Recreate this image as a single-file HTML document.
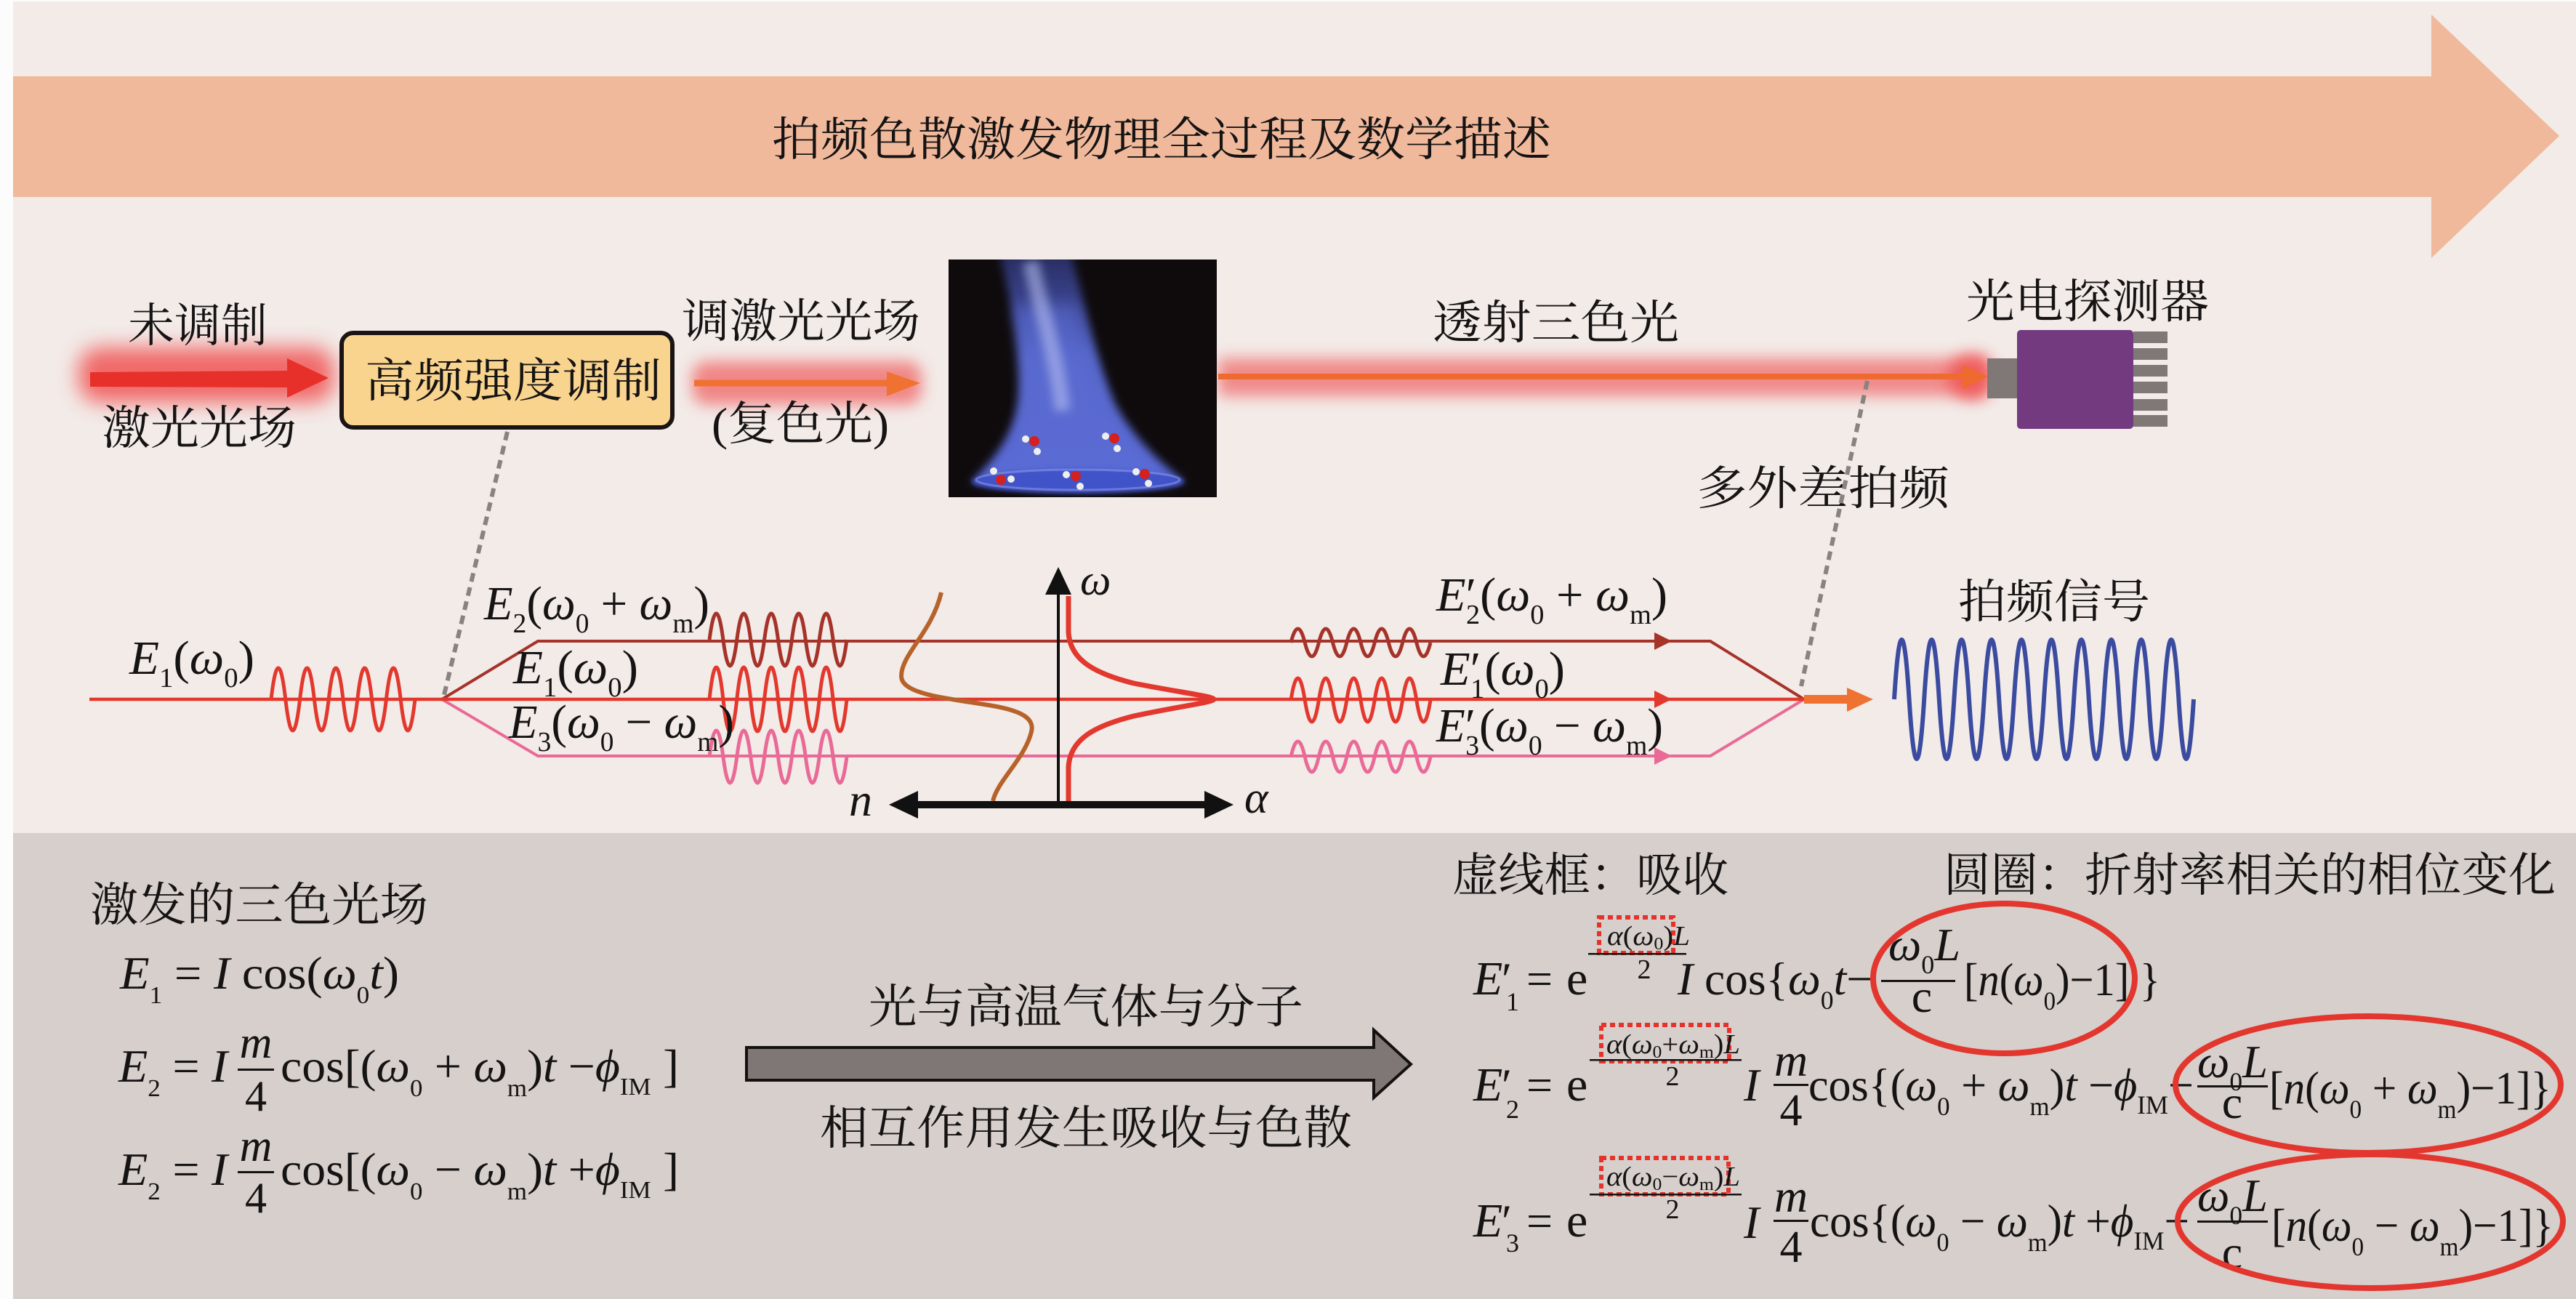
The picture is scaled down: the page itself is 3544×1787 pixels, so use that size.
<!DOCTYPE html>
<html><head><meta charset="utf-8"><style>
html,body{margin:0;padding:0;background:#fff;}
svg{display:block;}
.cn{font-family:"Liberation Serif","Noto Serif CJK SC",serif;fill:#151313;}
.m{font-family:"Liberation Serif","DejaVu Serif",serif;fill:#151313;}
.i{font-style:italic;}
</style></head><body>
<svg xmlns="http://www.w3.org/2000/svg" width="3544" height="1787" viewBox="0 0 3544 1787">
<defs>
<filter id="b14" x="-50%" y="-100%" width="200%" height="300%"><feGaussianBlur stdDeviation="14"/></filter>
<filter id="b10" x="-50%" y="-100%" width="200%" height="300%"><feGaussianBlur stdDeviation="10"/></filter>
<filter id="b6" x="-50%" y="-50%" width="200%" height="200%"><feGaussianBlur stdDeviation="6"/></filter>
<filter id="b3" x="-50%" y="-50%" width="200%" height="200%"><feGaussianBlur stdDeviation="3"/></filter>
<clipPath id="fc"><rect x="1305" y="357" width="369" height="327"/></clipPath>
<linearGradient id="fg" x1="0" y1="0" x2="0" y2="1"><stop offset="0" stop-color="#3d4aa8" stop-opacity="0.55"/><stop offset="0.45" stop-color="#5565c8"/><stop offset="1" stop-color="#5a6ad6"/></linearGradient>
</defs>

<!-- backgrounds -->
<rect x="0" y="0" width="3544" height="1787" fill="#fdfcfc"/>
<rect x="18" y="2" width="3526" height="1144" fill="#f2ebe8"/>
<rect x="18" y="1146" width="3526" height="641" fill="#d6cfcb"/>

<!-- big arrow band -->
<polygon points="18,105 3345,105 3345,20 3521,187 3345,355 3345,271 18,271" fill="#f0b99c"/>
<text class="cn" x="1062" y="214" font-size="64" textLength="1072" lengthAdjust="spacingAndGlyphs">拍频色散激发物理全过程及数学描述</text>

<!-- glows -->
<rect x="108" y="478" width="352" height="76" rx="30" fill="#f04a4a" opacity="0.8" filter="url(#b14)"/>
<rect x="952" y="497" width="316" height="60" rx="20" fill="#f06565" opacity="0.75" filter="url(#b10)"/>
<rect x="1676" y="493" width="1058" height="52" fill="#f06a6a" opacity="0.75" filter="url(#b10)"/>
<circle cx="2712" cy="518" r="32" fill="#f04a4a" opacity="0.7" filter="url(#b10)"/>

<!-- beams cores -->
<polygon points="124,512 395,510 395,493 452,520 395,547 395,533 124,532" fill="#e8302a"/>
<line x1="955" y1="527" x2="1225" y2="527" stroke="#f07232" stroke-width="9"/>
<polygon points="1220,511 1266,527 1220,545" fill="#f07232"/>
<line x1="1676" y1="518" x2="2705" y2="518" stroke="#ee6a2e" stroke-width="8"/>
<polygon points="2700,502 2735,518 2700,535" fill="#ee6a2e"/>

<!-- yellow box -->
<rect x="470" y="458" width="455" height="130" rx="16" fill="#f9d48f" stroke="#1a1414" stroke-width="6"/>
<text class="cn" x="502" y="546" font-size="64" textLength="408" lengthAdjust="spacingAndGlyphs">高频强度调制</text>

<!-- top texts -->
<text class="cn" x="176" y="470" font-size="64" textLength="192" lengthAdjust="spacingAndGlyphs">未调制</text>
<text class="cn" x="140" y="611" font-size="64" textLength="268" lengthAdjust="spacingAndGlyphs">激光光场</text>
<text class="cn" x="938" y="464" font-size="64" textLength="328" lengthAdjust="spacingAndGlyphs">调激光光场</text>
<text class="cn" x="979" y="605" font-size="64" textLength="244" lengthAdjust="spacingAndGlyphs">(复色光)</text>
<text class="cn" x="1971" y="466" font-size="64" textLength="339" lengthAdjust="spacingAndGlyphs">透射三色光</text>
<text class="cn" x="2705" y="437" font-size="64" textLength="334" lengthAdjust="spacingAndGlyphs">光电探测器</text>
<text class="cn" x="2334" y="694" font-size="64" textLength="348" lengthAdjust="spacingAndGlyphs">多外差拍频</text>
<text class="cn" x="2694" y="850" font-size="64" textLength="264" lengthAdjust="spacingAndGlyphs">拍频信号</text>

<!-- flame -->
<rect x="1305" y="357" width="369" height="327" fill="#0f0b0d"/>
<g clip-path="url(#fc)">
<path d="M1376,350 C1392,420 1405,480 1402,540 C1398,590 1375,625 1336,664 L1630,664 C1592,634 1558,600 1534,556 C1512,505 1494,430 1474,350 Z" fill="url(#fg)" filter="url(#b6)"/>
<path d="M1395,420 C1405,480 1412,530 1408,580 C1400,620 1380,645 1350,664 L1615,664 C1585,640 1555,612 1530,575 C1505,530 1490,470 1480,420 Z" fill="#5c6dd4" opacity="0.55" filter="url(#b10)"/>
<path d="M1418,360 C1430,420 1452,480 1462,565" stroke="#b4bcf0" stroke-width="22" fill="none" opacity="0.6" filter="url(#b6)"/>
<ellipse cx="1483" cy="662" rx="146" ry="17" fill="#4152c8" filter="url(#b3)"/>
<ellipse cx="1483" cy="660" rx="140" ry="14" fill="none" stroke="#8894ea" stroke-width="3" opacity="0.6"/>
<g>
<circle cx="1423" cy="607" r="7" fill="#d42020"/><circle cx="1411" cy="604" r="5" fill="#eee"/><circle cx="1427" cy="621" r="5" fill="#eee"/>
<circle cx="1533" cy="603" r="7" fill="#d42020"/><circle cx="1521" cy="600" r="5" fill="#eee"/><circle cx="1537" cy="617" r="5" fill="#eee"/>
<circle cx="1377" cy="660" r="7" fill="#d42020"/><circle cx="1367" cy="648" r="5" fill="#eee"/><circle cx="1391" cy="659" r="5" fill="#eee"/>
<circle cx="1480" cy="655" r="7" fill="#d42020"/><circle cx="1467" cy="653" r="5" fill="#eee"/><circle cx="1486" cy="669" r="5" fill="#eee"/>
<circle cx="1575" cy="652" r="7" fill="#d42020"/><circle cx="1563" cy="649" r="5" fill="#eee"/><circle cx="1580" cy="665" r="5" fill="#eee"/>
</g>
</g>

<!-- detector -->
<rect x="2734" y="493" width="43" height="55" fill="#7f7877"/>
<rect x="2775" y="454" width="160" height="136" rx="5" fill="#733a80"/>
<g fill="#7f7877">
<rect x="2935" y="456" width="47" height="16"/>
<rect x="2935" y="479" width="47" height="16"/>
<rect x="2935" y="502" width="47" height="16"/>
<rect x="2935" y="525" width="47" height="16"/>
<rect x="2935" y="549" width="47" height="16"/>
<rect x="2935" y="571" width="47" height="16"/>
</g>

<!-- dotted leader lines -->
<line x1="698" y1="594" x2="610" y2="960" stroke="#888381" stroke-width="6" stroke-dasharray="12 8"/>
<line x1="2569" y1="524" x2="2478" y2="944" stroke="#888381" stroke-width="6" stroke-dasharray="12 8"/>

<!-- beam lines -->
<path d="M608 962 L740 882 L2353 882 L2482 962" fill="none" stroke="#a63329" stroke-width="4"/>
<path d="M608 962 L740 1040 L2353 1040 L2482 962" fill="none" stroke="#e96a97" stroke-width="4"/>
<line x1="123" y1="962" x2="2482" y2="962" stroke="#e2382d" stroke-width="4.5"/>
<polygon points="2276,870 2300,882 2276,894" fill="#a63329"/>
<polygon points="2276,950 2300,962 2276,974" fill="#e2382d"/>
<polygon points="2276,1028 2300,1040 2276,1052" fill="#e96a97"/>
<line x1="2482" y1="962" x2="2545" y2="962" stroke="#f07232" stroke-width="12"/>
<polygon points="2541,946 2577,962 2541,979" fill="#f07232"/>

<!-- waves -->
<path d="M373 962 Q382.9 876 392.8 962 T412.6 962 T432.4 962 T452.2 962 T472 962 T491.8 962 T511.6 962 T531.4 962 T551.2 962 T571 962" fill="none" stroke="#e2382d" stroke-width="5"/>
<path d="M976 880 Q985.45 808 994.9 880 T1013.8 880 T1032.7 880 T1051.6 880 T1070.5 880 T1089.4 880 T1108.3 880 T1127.2 880 T1146.1 880 T1165 880" fill="none" stroke="#a63329" stroke-width="5"/>
<path d="M976 962 Q985.45 874 994.9 962 T1013.8 962 T1032.7 962 T1051.6 962 T1070.5 962 T1089.4 962 T1108.3 962 T1127.2 962 T1146.1 962 T1165 962" fill="none" stroke="#e2382d" stroke-width="5"/>
<path d="M976 1041 Q985.45 969 994.9 1041 T1013.8 1041 T1032.7 1041 T1051.6 1041 T1070.5 1041 T1089.4 1041 T1108.3 1041 T1127.2 1041 T1146.1 1041 T1165 1041" fill="none" stroke="#e96a97" stroke-width="5"/>
<path d="M1776 884 Q1785.6 846 1795.2 884 T1814.4 884 T1833.6 884 T1852.8 884 T1872 884 T1891.2 884 T1910.4 884 T1929.6 884 T1948.8 884 T1968 884" fill="none" stroke="#a63329" stroke-width="5"/>
<path d="M1776 963 Q1785.6 903 1795.2 963 T1814.4 963 T1833.6 963 T1852.8 963 T1872 963 T1891.2 963 T1910.4 963 T1929.6 963 T1948.8 963 T1968 963" fill="none" stroke="#e2382d" stroke-width="5"/>
<path d="M1776 1041 Q1785.6 999 1795.2 1041 T1814.4 1041 T1833.6 1041 T1852.8 1041 T1872 1041 T1891.2 1041 T1910.4 1041 T1929.6 1041 T1948.8 1041 T1968 1041" fill="none" stroke="#e96a97" stroke-width="5"/>
<path d="M2606 962 Q2616.3 798 2626.6 962 T2647.2 962 T2667.8 962 T2688.4 962 T2709 962 T2729.6 962 T2750.2 962 T2770.8 962 T2791.4 962 T2812 962 T2832.6 962 T2853.2 962 T2873.8 962 T2894.4 962 T2915 962 T2935.6 962 T2956.2 962 T2976.8 962 T2997.4 962 T3018 962" fill="none" stroke="#3b4b9f" stroke-width="6"/>

<!-- n / alpha plot -->
<path d="M1295,815 C1282,870 1240,900 1240,930 C1240,955 1300,960 1360,970 C1410,978 1425,990 1418,1010 C1408,1045 1372,1075 1366,1102" fill="none" stroke="#b8622b" stroke-width="6"/>
<line x1="1456" y1="812" x2="1456" y2="1103" stroke="#111" stroke-width="4"/>
<polygon points="1456,780 1438,818 1474,818" fill="#111"/>
<path d="M1470,820 L1470,870 C1472,905 1500,925 1560,940 C1620,952 1670,958 1670,962 C1670,966 1620,972 1560,985 C1500,1000 1472,1020 1470,1055 L1470,1102" fill="none" stroke="#e2382d" stroke-width="7"/>
<line x1="1255" y1="1107" x2="1665" y2="1107" stroke="#111" stroke-width="10"/>
<polygon points="1223,1107 1263,1088 1263,1126" fill="#111"/>
<polygon points="1697,1107 1657,1088 1657,1126" fill="#111"/>
<text class="m i" x="1486" y="818" font-size="60">ω</text>
<text class="m i" x="1168" y="1122" font-size="64">n</text>
<text class="m i" x="1712" y="1118" font-size="62">α</text>

<!-- wave labels -->
<text class="m" x="178" y="927" font-size="66" textLength="172" lengthAdjust="spacingAndGlyphs"><tspan font-style="italic">E</tspan><tspan font-size="38" dy="18">1</tspan><tspan dy="-18">(</tspan><tspan font-style="italic">ω</tspan><tspan font-size="38" dy="18">0</tspan><tspan dy="-18">)</tspan></text>
<text class="m" x="666" y="852" font-size="66" textLength="310" lengthAdjust="spacingAndGlyphs"><tspan font-style="italic">E</tspan><tspan font-size="38" dy="18">2</tspan><tspan dy="-18">(</tspan><tspan font-style="italic">ω</tspan><tspan font-size="38" dy="18">0</tspan><tspan dy="-18"> + </tspan><tspan font-style="italic">ω</tspan><tspan font-size="38" dy="18">m</tspan><tspan dy="-18">)</tspan></text>
<text class="m" x="706" y="940" font-size="66" textLength="172" lengthAdjust="spacingAndGlyphs"><tspan font-style="italic">E</tspan><tspan font-size="38" dy="18">1</tspan><tspan dy="-18">(</tspan><tspan font-style="italic">ω</tspan><tspan font-size="38" dy="18">0</tspan><tspan dy="-18">)</tspan></text>
<text class="m" x="700" y="1015" font-size="66" textLength="310" lengthAdjust="spacingAndGlyphs"><tspan font-style="italic">E</tspan><tspan font-size="38" dy="18">3</tspan><tspan dy="-18">(</tspan><tspan font-style="italic">ω</tspan><tspan font-size="38" dy="18">0</tspan><tspan dy="-18"> − </tspan><tspan font-style="italic">ω</tspan><tspan font-size="38" dy="18">m</tspan><tspan dy="-18">)</tspan></text>
<text class="m" x="1976" y="840" font-size="66" textLength="318" lengthAdjust="spacingAndGlyphs"><tspan font-style="italic">E</tspan><tspan>′</tspan><tspan font-size="38" dx="-14" dy="18">2</tspan><tspan dy="-18">(</tspan><tspan font-style="italic">ω</tspan><tspan font-size="38" dy="18">0</tspan><tspan dy="-18"> + </tspan><tspan font-style="italic">ω</tspan><tspan font-size="38" dy="18">m</tspan><tspan dy="-18">)</tspan></text>
<text class="m" x="1982" y="942" font-size="66" textLength="171" lengthAdjust="spacingAndGlyphs"><tspan font-style="italic">E</tspan><tspan>′</tspan><tspan font-size="38" dx="-14" dy="18">1</tspan><tspan dy="-18">(</tspan><tspan font-style="italic">ω</tspan><tspan font-size="38" dy="18">0</tspan><tspan dy="-18">)</tspan></text>
<text class="m" x="1976" y="1020" font-size="66" textLength="312" lengthAdjust="spacingAndGlyphs"><tspan font-style="italic">E</tspan><tspan>′</tspan><tspan font-size="38" dx="-14" dy="18">3</tspan><tspan dy="-18">(</tspan><tspan font-style="italic">ω</tspan><tspan font-size="38" dy="18">0</tspan><tspan dy="-18"> − </tspan><tspan font-style="italic">ω</tspan><tspan font-size="38" dy="18">m</tspan><tspan dy="-18">)</tspan></text>

<!-- ===== bottom section ===== -->
<text class="cn" x="124" y="1267" font-size="64" textLength="465" lengthAdjust="spacingAndGlyphs">激发的三色光场</text>

<!-- left equations -->
<text class="m" x="165" y="1360" font-size="64" textLength="384" lengthAdjust="spacingAndGlyphs"><tspan font-style="italic">E</tspan><tspan font-size="34" dy="20">1</tspan><tspan dy="-20"> = </tspan><tspan font-style="italic">I</tspan><tspan> cos(</tspan><tspan font-style="italic">ω</tspan><tspan font-size="34" dy="20">0</tspan><tspan dy="-20" font-style="italic">t</tspan><tspan>)</tspan></text>

<text class="m" x="163" y="1488" font-size="64" textLength="150" lengthAdjust="spacingAndGlyphs"><tspan font-style="italic">E</tspan><tspan font-size="34" dy="20">2</tspan><tspan dy="-20"> = </tspan><tspan font-style="italic">I</tspan></text>
<text class="m i" x="352" y="1455" font-size="62" text-anchor="middle">m</text>
<rect x="327" y="1470" width="50" height="3" fill="#151313"/>
<text class="m" x="352" y="1528" font-size="60" text-anchor="middle">4</text>
<text class="m" x="386" y="1488" font-size="64" textLength="548" lengthAdjust="spacingAndGlyphs"><tspan>cos[(</tspan><tspan font-style="italic">ω</tspan><tspan font-size="34" dy="20">0</tspan><tspan dy="-20"> + </tspan><tspan font-style="italic">ω</tspan><tspan font-size="34" dy="20">m</tspan><tspan dy="-20">)</tspan><tspan font-style="italic">t</tspan><tspan> −</tspan><tspan font-style="italic">ϕ</tspan><tspan font-size="34" dy="18">IM</tspan><tspan dy="-18"> ]</tspan></text>

<text class="m" x="163" y="1630" font-size="64" textLength="150" lengthAdjust="spacingAndGlyphs"><tspan font-style="italic">E</tspan><tspan font-size="34" dy="20">2</tspan><tspan dy="-20"> = </tspan><tspan font-style="italic">I</tspan></text>
<text class="m i" x="352" y="1597" font-size="62" text-anchor="middle">m</text>
<rect x="327" y="1611" width="50" height="3" fill="#151313"/>
<text class="m" x="352" y="1668" font-size="60" text-anchor="middle">4</text>
<text class="m" x="386" y="1630" font-size="64" textLength="548" lengthAdjust="spacingAndGlyphs"><tspan>cos[(</tspan><tspan font-style="italic">ω</tspan><tspan font-size="34" dy="20">0</tspan><tspan dy="-20"> − </tspan><tspan font-style="italic">ω</tspan><tspan font-size="34" dy="20">m</tspan><tspan dy="-20">)</tspan><tspan font-style="italic">t</tspan><tspan> +</tspan><tspan font-style="italic">ϕ</tspan><tspan font-size="34" dy="18">IM</tspan><tspan dy="-18"> ]</tspan></text>

<!-- middle gray arrow -->
<text class="cn" x="1195" y="1407" font-size="64" textLength="598" lengthAdjust="spacingAndGlyphs">光与高温气体与分子</text>
<polygon points="1027,1441 1890,1441 1890,1417 1941,1464 1890,1510 1890,1486 1027,1486" fill="#7f7775" stroke="#141111" stroke-width="4"/>
<text class="cn" x="1128" y="1574" font-size="64" textLength="732" lengthAdjust="spacingAndGlyphs">相互作用发生吸收与色散</text>

<!-- right header texts -->
<text class="cn" x="1998" y="1226" font-size="64" textLength="380" lengthAdjust="spacingAndGlyphs">虚线框：吸收</text>
<text class="cn" x="2674" y="1226" font-size="64" textLength="842" lengthAdjust="spacingAndGlyphs">圆圈：折射率相关的相位变化</text>

<!-- E'1 -->
<text class="m i" x="2027" y="1368" font-size="66">E</text>
<text class="m" x="2066" y="1368" font-size="64">′</text>
<text class="m" x="2072" y="1390" font-size="36">1</text>
<text class="m" x="2100" y="1368" font-size="64">=</text>
<text class="m" x="2155" y="1368" font-size="66">e</text>
<rect x="2200" y="1262" width="102" height="49" fill="none" stroke="#e5322a" stroke-width="6" stroke-dasharray="7 5"/>
<text class="m" x="2211" y="1300" font-size="38" textLength="114" lengthAdjust="spacingAndGlyphs"><tspan font-style="italic">α</tspan><tspan>(</tspan><tspan font-style="italic">ω</tspan><tspan font-size="24" dy="6">0</tspan><tspan dy="-6">)</tspan><tspan font-style="italic">L</tspan></text>
<rect x="2185" y="1311" width="135" height="2.5" fill="#151313"/>
<text class="m" x="2262" y="1346" font-size="38" text-anchor="middle">2</text>
<text class="m" x="2308" y="1368" font-size="64" textLength="268" lengthAdjust="spacingAndGlyphs"><tspan font-style="italic">I</tspan><tspan> cos{</tspan><tspan font-style="italic">ω</tspan><tspan font-size="36" dy="20">0</tspan><tspan dy="-20" font-style="italic">t</tspan><tspan>−</tspan></text>
<text class="m" x="2598" y="1321" font-size="64" textLength="99" lengthAdjust="spacingAndGlyphs"><tspan font-style="italic">ω</tspan><tspan font-size="36" dy="18">0</tspan><tspan dy="-18" font-style="italic">L</tspan></text>
<rect x="2588" y="1348" width="102" height="3" fill="#151313"/>
<text class="m" x="2644" y="1392" font-size="64" text-anchor="middle">c</text>
<text class="m" x="2702" y="1369" font-size="64" textLength="270" lengthAdjust="spacingAndGlyphs"><tspan>[</tspan><tspan font-style="italic">n</tspan><tspan>(</tspan><tspan font-style="italic">ω</tspan><tspan font-size="36" dy="20">0</tspan><tspan dy="-20">)−1] }</tspan></text>

<!-- E'2 -->
<text class="m i" x="2027" y="1514" font-size="66">E</text>
<text class="m" x="2066" y="1514" font-size="64">′</text>
<text class="m" x="2072" y="1538" font-size="36">2</text>
<text class="m" x="2100" y="1514" font-size="64">=</text>
<text class="m" x="2155" y="1514" font-size="66">e</text>
<rect x="2203" y="1410" width="176" height="50" fill="none" stroke="#e5322a" stroke-width="6" stroke-dasharray="7 5"/>
<text class="m" x="2210" y="1449" font-size="38" textLength="184" lengthAdjust="spacingAndGlyphs"><tspan font-style="italic">α</tspan><tspan>(</tspan><tspan font-style="italic">ω</tspan><tspan font-size="24" dy="6">0</tspan><tspan dy="-6">+</tspan><tspan font-style="italic">ω</tspan><tspan font-size="24" dy="6">m</tspan><tspan dy="-6">)</tspan><tspan font-style="italic">L</tspan></text>
<rect x="2187" y="1457" width="209" height="2.5" fill="#151313"/>
<text class="m" x="2301" y="1493" font-size="38" text-anchor="middle">2</text>
<text class="m i" x="2399" y="1514" font-size="64">I</text>
<text class="m i" x="2464" y="1480" font-size="64" text-anchor="middle">m</text>
<rect x="2440" y="1491" width="48" height="3" fill="#151313"/>
<text class="m" x="2464" y="1548" font-size="62" text-anchor="middle">4</text>
<text class="m" x="2488" y="1514" font-size="64" textLength="530" lengthAdjust="spacingAndGlyphs"><tspan>cos{(</tspan><tspan font-style="italic">ω</tspan><tspan font-size="36" dy="20">0</tspan><tspan dy="-20"> + </tspan><tspan font-style="italic">ω</tspan><tspan font-size="36" dy="20">m</tspan><tspan dy="-20">)</tspan><tspan font-style="italic">t</tspan><tspan> −</tspan><tspan font-style="italic">ϕ</tspan><tspan font-size="36" dy="18">IM</tspan><tspan dy="-18">−</tspan></text>
<text class="m" x="3023" y="1482" font-size="64" textLength="97" lengthAdjust="spacingAndGlyphs"><tspan font-style="italic">ω</tspan><tspan font-size="36" dy="18">0</tspan><tspan dy="-18" font-style="italic">L</tspan></text>
<rect x="3023" y="1493" width="97" height="3" fill="#151313"/>
<text class="m" x="3071" y="1538" font-size="64" text-anchor="middle">c</text>
<text class="m" x="3122" y="1518" font-size="64" textLength="388" lengthAdjust="spacingAndGlyphs"><tspan>[</tspan><tspan font-style="italic">n</tspan><tspan>(</tspan><tspan font-style="italic">ω</tspan><tspan font-size="36" dy="20">0</tspan><tspan dy="-20"> + </tspan><tspan font-style="italic">ω</tspan><tspan font-size="36" dy="20">m</tspan><tspan dy="-20">)−1]}</tspan></text>

<!-- E'3 -->
<text class="m i" x="2027" y="1701" font-size="66">E</text>
<text class="m" x="2066" y="1701" font-size="64">′</text>
<text class="m" x="2072" y="1722" font-size="36">3</text>
<text class="m" x="2100" y="1701" font-size="64">=</text>
<text class="m" x="2155" y="1701" font-size="66">e</text>
<rect x="2203" y="1593" width="175" height="50" fill="none" stroke="#e5322a" stroke-width="6" stroke-dasharray="7 5"/>
<text class="m" x="2210" y="1631" font-size="38" textLength="184" lengthAdjust="spacingAndGlyphs"><tspan font-style="italic">α</tspan><tspan>(</tspan><tspan font-style="italic">ω</tspan><tspan font-size="24" dy="6">0</tspan><tspan dy="-6">−</tspan><tspan font-style="italic">ω</tspan><tspan font-size="24" dy="6">m</tspan><tspan dy="-6">)</tspan><tspan font-style="italic">L</tspan></text>
<rect x="2187" y="1642" width="209" height="2.5" fill="#151313"/>
<text class="m" x="2301" y="1676" font-size="38" text-anchor="middle">2</text>
<text class="m i" x="2399" y="1703" font-size="64">I</text>
<text class="m i" x="2464" y="1667" font-size="64" text-anchor="middle">m</text>
<rect x="2440" y="1678" width="48" height="3" fill="#151313"/>
<text class="m" x="2464" y="1736" font-size="62" text-anchor="middle">4</text>
<text class="m" x="2490" y="1701" font-size="64" textLength="522" lengthAdjust="spacingAndGlyphs"><tspan>cos{(</tspan><tspan font-style="italic">ω</tspan><tspan font-size="36" dy="20">0</tspan><tspan dy="-20"> − </tspan><tspan font-style="italic">ω</tspan><tspan font-size="36" dy="20">m</tspan><tspan dy="-20">)</tspan><tspan font-style="italic">t</tspan><tspan> +</tspan><tspan font-style="italic">ϕ</tspan><tspan font-size="36" dy="18">IM</tspan><tspan dy="-18">−</tspan></text>
<text class="m" x="3023" y="1666" font-size="64" textLength="97" lengthAdjust="spacingAndGlyphs"><tspan font-style="italic">ω</tspan><tspan font-size="36" dy="18">0</tspan><tspan dy="-18" font-style="italic">L</tspan></text>
<rect x="3023" y="1679" width="97" height="3" fill="#151313"/>
<text class="m" x="3071" y="1744" font-size="64" text-anchor="middle">c</text>
<text class="m" x="3125" y="1707" font-size="64" textLength="388" lengthAdjust="spacingAndGlyphs"><tspan>[</tspan><tspan font-style="italic">n</tspan><tspan>(</tspan><tspan font-style="italic">ω</tspan><tspan font-size="36" dy="20">0</tspan><tspan dy="-20"> − </tspan><tspan font-style="italic">ω</tspan><tspan font-size="36" dy="20">m</tspan><tspan dy="-20">)−1]}</tspan></text>

<!-- red ellipses -->
<ellipse cx="2757" cy="1346" rx="180" ry="103" fill="none" stroke="#e2362e" stroke-width="8"/>
<ellipse cx="3258" cy="1492" rx="265" ry="94" fill="none" stroke="#e2362e" stroke-width="8"/>
<ellipse cx="3261" cy="1680" rx="265" ry="92" fill="none" stroke="#e2362e" stroke-width="8"/>
</svg>
</body></html>
